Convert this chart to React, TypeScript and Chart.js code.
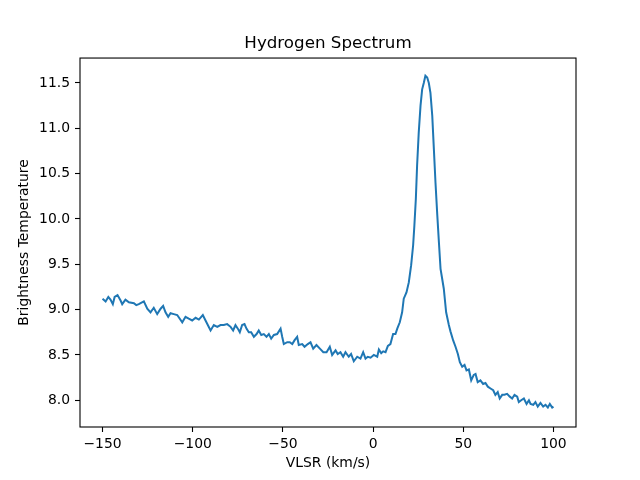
import React, { useEffect, useRef } from "react";
import { Chart, registerables } from "chart.js";

Chart.register(...registerables);

const velocities: number[] = [
  -150.0, -148.3, -146.8, -145.6, -144.3, -143.3, -141.7, -140.0, -139.1, -137.3,
  -135.4, -132.6, -131.3, -129.9, -127.1, -125.2, -123.4, -121.6, -119.7, -117.8,
  -116.4, -115.1, -113.6, -112.3, -110.5, -108.6, -105.8, -104.0, -102.2, -100.3,
  -98.4, -96.6, -94.4, -92.9, -90.1, -88.3, -86.4, -84.6, -82.8, -80.9,
  -79.0, -77.6, -76.3, -75.0, -73.9, -72.6, -71.3, -70.2, -68.9, -67.6,
  -66.1, -64.6, -63.4, -62.0, -60.6, -59.1, -57.8, -56.5, -55.0, -53.2,
  -51.3, -50.4, -49.5, -47.6, -46.2, -44.8, -43.6, -42.1, -41.2, -39.3,
  -38.0, -36.2, -34.7, -33.2, -31.4, -29.5, -27.6, -25.8, -24.0, -22.7,
  -20.8, -19.6, -18.1, -16.6, -15.3, -13.5, -12.2, -10.7, -8.8, -7.0,
  -5.5, -4.2, -2.9, -1.4, 0.4, 2.3, 3.2, 4.5, 5.6, 6.9,
  8.2, 9.6, 11.1, 12.4, 13.4, 14.8, 16.1, 17.0, 18.5, 19.8,
  21.1, 22.2, 22.9, 23.7, 24.4, 25.3, 26.3, 27.2, 28.1, 29.0,
  30.0, 30.9, 31.8, 32.8, 33.7, 34.6, 35.6, 36.5, 37.4, 38.3,
  39.2, 40.5, 42.0, 42.9, 44.4, 45.7, 47.0, 48.1, 49.4, 50.7,
  51.8, 53.1, 54.4, 55.8, 56.8, 58.0, 59.5, 61.0, 62.3, 63.6,
  65.1, 66.6, 67.8, 69.1, 70.2, 71.6, 72.8, 74.3, 75.8, 77.1,
  78.4, 79.9, 80.8, 82.1, 83.6, 85.1, 86.4, 87.3, 88.8, 90.0,
  91.3, 92.8, 94.3, 95.6, 96.9, 98.0, 99.3, 100.0,
];

const temperatures: number[] = [
  9.12, 9.09, 9.14, 9.11, 9.06, 9.14, 9.16, 9.10, 9.06, 9.11,
  9.08, 9.07, 9.05, 9.06, 9.09, 9.01, 8.97, 9.02, 8.95, 9.01,
  9.04, 8.97, 8.92, 8.96, 8.95, 8.94, 8.86, 8.92, 8.90, 8.88,
  8.91, 8.89, 8.94, 8.88, 8.77, 8.83, 8.81, 8.83, 8.83, 8.84,
  8.81, 8.77, 8.83, 8.79, 8.75, 8.83, 8.84, 8.79, 8.75, 8.75,
  8.70, 8.73, 8.77, 8.72, 8.73, 8.70, 8.73, 8.68, 8.72, 8.73,
  8.79, 8.70, 8.62, 8.64, 8.64, 8.62, 8.66, 8.70, 8.61, 8.62,
  8.59, 8.62, 8.64, 8.57, 8.61, 8.57, 8.53, 8.53, 8.59, 8.50,
  8.55, 8.51, 8.53, 8.48, 8.53, 8.48, 8.51, 8.43, 8.48, 8.46,
  8.53, 8.46, 8.48, 8.47, 8.50, 8.48, 8.56, 8.52, 8.54, 8.53,
  8.60, 8.62, 8.73, 8.73, 8.79, 8.86, 8.97, 9.12, 9.19, 9.30,
  9.49, 9.71, 9.93, 10.22, 10.59, 10.95, 11.25, 11.43, 11.50, 11.58,
  11.56, 11.50, 11.39, 11.14, 10.77, 10.40, 10.04, 9.74, 9.45, 9.34,
  9.23, 8.97, 8.83, 8.76, 8.66, 8.59, 8.51, 8.42, 8.37, 8.39,
  8.33, 8.34, 8.22, 8.28, 8.29, 8.20, 8.22, 8.18, 8.19, 8.15,
  8.13, 8.11, 8.06, 8.09, 8.02, 8.06, 8.06, 8.07, 8.04, 8.02,
  8.06, 8.04, 7.98, 8.00, 8.02, 7.96, 8.00, 7.96, 7.95, 7.98,
  7.93, 7.97, 7.93, 7.95, 7.92, 7.96, 7.92, 7.93,
];

const xTicks: number[] = [-150, -100, -50, 0, 50, 100];
const yTicks: number[] = [8.0, 8.5, 9.0, 9.5, 10.0, 10.5, 11.0, 11.5];

const chartTitle = "Hydrogen Spectrum";
const xLabel = "VLSR (km/s)";
const yLabel = "Brightness Temperature";

const FONT = "'DejaVu Sans', sans-serif";

const framePlugin = {
  id: "frame",
  afterDatasetsDraw(chart: any) {
    const { ctx, chartArea } = chart;
    ctx.save();
    ctx.strokeStyle = "#000";
    ctx.lineWidth = 1.1;
    ctx.strokeRect(
      chartArea.left,
      chartArea.top,
      chartArea.right - chartArea.left,
      chartArea.bottom - chartArea.top
    );
    ctx.restore();
  },
};

export default function App() {
  const canvasRef = useRef<HTMLCanvasElement | null>(null);

  useEffect(() => {
    if (!canvasRef.current) return;
    const points = velocities.map((v, i) => ({ x: v, y: temperatures[i] }));
    const chart = new Chart(canvasRef.current, {
      type: "line",
      data: {
        datasets: [
          {
            label: "Spectrum",
            data: points,
            borderColor: "#1f77b4",
            borderWidth: 2,
            pointRadius: 0,
            fill: false,
            tension: 0,
          },
        ],
      },
      options: {
        animation: false,
        responsive: false,
        devicePixelRatio: 1,
        parsing: false as any,
        layout: { padding: { left: 16, right: 0, top: 0, bottom: 0 } },
        plugins: {
          legend: { display: false },
          tooltip: { enabled: false },
          title: {
            display: true,
            text: chartTitle,
            color: "#000",
            font: { family: FONT, size: 16.7, weight: "normal" as any, lineHeight: 1.2 },
            padding: { top: 34, bottom: 4 },
          },
        },
        scales: {
          x: {
            type: "linear",
            min: -162.5,
            max: 112.5,
            afterFit(scale: any) {
              scale.height = 53;
            },
            afterBuildTicks(scale: any) {
              scale.ticks = xTicks.map((v) => ({ value: v }));
            },
            border: { display: false },
            grid: {
              display: true,
              drawOnChartArea: false,
              drawTicks: true,
              tickLength: 5,
              tickWidth: 1.1,
              tickColor: "#000",
            },
            ticks: {
              color: "#000",
              padding: 4,
              maxRotation: 0,
              autoSkip: false,
              font: { family: FONT, size: 13.9 },
              callback: (v: any) => {
                const n = Number(v);
                return n < 0 ? "\u2212" + Math.abs(n) : String(n);
              },
            },
            title: {
              display: true,
              text: xLabel,
              color: "#000",
              font: { family: FONT, size: 13.9, lineHeight: 1.2 },
              padding: { top: 0, bottom: 8.5 },
            },
          },
          y: {
            type: "linear",
            min: 7.705,
            max: 11.775,
            afterFit(scale: any) {
              scale.width = 64;
            },
            afterBuildTicks(scale: any) {
              scale.ticks = yTicks.map((v) => ({ value: v }));
            },
            border: { display: false },
            grid: {
              display: true,
              drawOnChartArea: false,
              drawTicks: true,
              tickLength: 5,
              tickWidth: 1.1,
              tickColor: "#000",
            },
            ticks: {
              color: "#000",
              padding: 5,
              autoSkip: false,
              font: { family: FONT, size: 13.9 },
              callback: (v: any) => Number(v).toFixed(1),
            },
            title: {
              display: true,
              text: yLabel,
              color: "#000",
              font: { family: FONT, size: 13.9, lineHeight: 1.2 },
              padding: { top: 0, bottom: 0 },
            },
          },
          ySpacer: {
            type: "linear",
            position: "right",
            display: true,
            min: 0,
            max: 1,
            afterFit(scale: any) {
              scale.width = 64;
            },
            border: { display: false },
            grid: { display: false, drawTicks: false },
            ticks: { display: false },
            title: { display: false },
          },
        },
      },
      plugins: [framePlugin],
    });
    return () => chart.destroy();
  }, []);

  return (
    <div
      style={{
        position: "absolute",
        left: 0,
        top: 0,
        width: 640,
        height: 480,
        background: "#fff",
      }}
    >
      <canvas ref={canvasRef} width={640} height={480} />
    </div>
  );
}
